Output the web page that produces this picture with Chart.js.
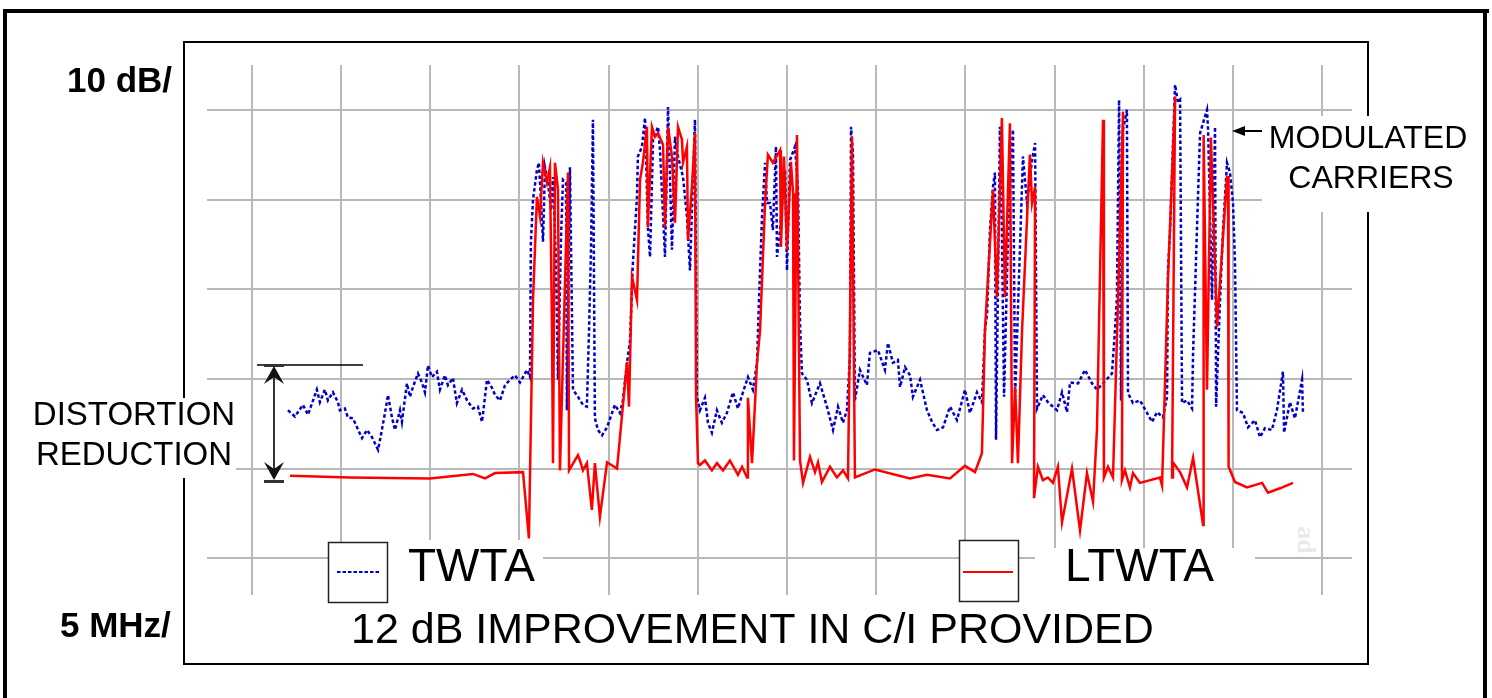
<!DOCTYPE html>
<html><head><meta charset="utf-8">
<script src="https://cdn.jsdelivr.net/npm/chart.js@4.4.0/dist/chart.umd.min.js"></script>
<style>html,body{margin:0;padding:0;background:#fff;}#wrap{width:1492px;height:698px;position:relative;}</style>
</head><body><div id="wrap"><canvas id="c"></canvas></div>
<script>
const twtaMHz = [2.02,2.41,2.86,3.14,3.64,3.81,4.09,4.26,4.54,4.82,4.93,5.21,5.38,5.66,5.89,6.17,6.45,6.73,7.07,7.18,
7.46,7.63,7.85,8.02,8.30,8.41,8.69,8.86,9.03,9.31,9.53,9.70,9.87,10.09,10.37,10.54,10.82,10.99,11.27,11.49,
11.78,12.06,12.39,12.67,12.90,13.18,13.46,13.63,13.91,14.19,14.47,14.75,15.03,15.42,15.59,
15.64,15.76,15.98,16.09,16.20,16.32,16.43,16.60,16.77,16.88,17.05,17.16,17.33,17.44,17.61,17.66,17.83,18.00,18.28,18.56,
18.78,18.90,19.01,19.12,19.23,19.40,19.63,19.91,20.19,20.35,20.63,20.80,21.03,21.20,21.36,21.59,21.64,21.87,22.04,22.20,
22.32,22.49,22.77,22.88,23.16,23.33,23.55,23.72,23.89,24.17,24.39,24.56,24.84,
24.95,25.12,25.40,25.57,25.79,26.07,26.35,26.63,26.97,27.25,27.53,27.81,28.09,28.32,28.43,28.60,28.77,28.88,29.05,29.21,
29.38,29.44,29.61,29.89,30.00,30.17,30.45,30.62,30.73,30.84,31.12,31.40,31.85,32.24,32.58,32.86,33.14,33.36,33.53,33.59,
33.70,33.81,34.09,34.48,34.65,35.10,35.49,35.66,35.94,36.22,36.34,36.62,36.90,37.06,37.46,37.85,38.13,38.41,38.75,39.14,
39.53,39.98,40.26,40.65,40.93,
41.10,41.22,41.38,41.55,41.66,41.72,41.94,42.05,42.17,42.39,42.67,42.79,43.23,43.46,43.74,43.91,44.02,44.35,44.63,45.14,
45.42,45.70,45.87,46.32,46.71,47.10,47.38,47.72,48.22,48.39,48.50,48.62,48.73,48.84,49.06,49.12,49.40,49.79,50.19,50.47,
50.75,51.08,51.31,51.36,51.48,51.76,51.92,52.04,52.15,52.43,52.71,52.77,52.99,53.16,53.55,53.61,53.83,54.00,54.06,54.28,
54.45,54.67,54.84,55.01,55.12,55.23,55.57,55.85,56.24,56.52,56.80,57.19,57.47,57.81,57.87,58.20,58.48,58.88,58.93];
const twtaDb = [16.5,15.8,17.1,16.0,18.8,17.4,18.8,17.6,18.5,17.4,16.5,16.7,15.7,15.6,14.6,13.4,14.3,13.5,12.1,13.2,
16.2,18.2,15.7,14.3,16.5,15.2,19.5,18.0,19.1,20.6,19.6,18.5,21.5,20.2,20.8,18.8,20.4,19.3,20.1,17.3,
18.8,17.6,16.7,16.9,15.2,19.9,19.0,18.2,17.6,19.3,19.9,20.4,19.6,21.0,20.2,
35.2,40.0,43.3,44.1,40.0,35.3,43.6,41.9,38.8,42.5,32.9,19.9,35.8,42.2,41.9,16.5,43.6,18.8,18.0,17.1,
16.9,25.4,34.4,48.9,15.6,14.3,13.7,14.6,16.2,17.1,16.2,17.6,21.8,24.3,32.9,40.3,44.8,45.9,49.1,36.9,
33.6,46.7,48.1,45.5,33.6,50.3,34.4,47.0,44.8,42.5,38.1,32.1,48.9,
18.0,16.5,17.9,15.1,14.0,16.5,15.1,16.2,18.5,16.7,18.5,20.2,18.8,21.8,28.8,38.1,44.1,39.6,39.6,36.6,
45.9,33.6,36.6,43.3,32.1,44.4,45.9,41.1,26.2,20.6,19.9,17.3,19.5,16.9,14.3,16.9,15.1,16.5,22.4,48.1,
45.2,17.6,21.0,19.3,22.9,23.2,21.0,24.0,21.8,22.1,19.1,21.3,20.4,18.0,19.9,16.5,15.2,14.3,14.6,16.9,
15.4,18.8,16.2,18.5,17.4,
25.4,27.3,36.6,41.4,43.0,13.2,48.1,36.6,18.0,35.8,47.8,18.0,44.8,39.6,44.4,46.3,16.7,18.2,17.4,16.5,
18.5,16.3,19.6,19.5,21.0,19.5,18.8,19.5,20.6,25.4,29.1,51.1,17.6,47.8,50.0,18.4,17.3,17.6,16.2,15.2,
16.3,15.7,18.0,32.1,36.6,52.8,50.8,51.1,17.3,17.6,16.7,22.9,36.9,47.4,50.0,47.8,28.8,48.1,16.9,28.8,
36.6,44.1,43.0,39.6,32.9,16.5,16.2,14.6,15.4,13.5,14.5,14.3,16.5,20.8,14.0,17.4,15.6,19.9,16.2];

const ltwtaMHz = [2.13,5.50,9.98,12.39,13.07,13.63,15.20,15.53,15.76,15.98,16.15,16.32,16.54,16.71,16.82,16.88,16.99,17.16,17.27,17.72,
17.78,18.28,18.39,18.56,18.78,19.06,19.23,19.51,19.91,20.47,21.03,21.14,21.31,21.59,21.76,21.92,22.15,22.20,22.43,22.60,
22.77,23.05,23.16,23.33,23.55,23.72,23.89,24.11,24.17,24.39,24.45,24.67,24.84,24.90,25.01,25.12,25.40,25.79,26.07,26.41,
26.80,27.25,27.48,27.76,27.81,28.04,28.32,28.49,28.77,28.93,29.21,29.61,29.66,29.83,30.00,30.22,30.34,30.39,30.56,30.73,
30.90,31.29,31.57,31.74,31.96,32.41,32.80,33.14,33.42,33.53,33.64,33.81,34.93,36.90,37.85,39.14,39.98,40.54,40.93,41.10,
41.55,41.77,42.05,42.22,42.50,42.62,42.79,42.95,43.18,43.62,43.74,43.91,43.85,44.07,44.35,44.63,44.91,45.19,45.42,45.98,
46.43,46.82,47.16,47.38,47.72,47.77,48.00,48.28,48.56,48.84,48.78,48.95,49.23,49.40,49.79,50.91,51.03,51.36,51.76,51.59,
51.64,52.04,52.43,52.77,53.33,53.36,53.55,53.77,54.11,54.67,54.73,54.76,55.12,55.79,56.64,56.97,57.64,58.37];
const ltwtaDb = [9.2,9.0,8.9,9.4,8.9,9.5,9.6,2.2,28.8,40.3,38.1,44.1,41.9,43.6,26.2,10.6,44.1,41.1,9.8,43.0,
9.8,11.5,10.9,9.8,10.6,5.4,10.6,4.6,10.7,10.0,21.9,16.9,31.4,28.8,42.2,44.1,48.1,36.9,48.1,47.0,
47.4,46.1,36.9,48.1,44.8,37.4,48.1,46.7,44.1,45.9,35.5,41.4,47.4,18.0,10.6,10.4,10.9,9.8,10.6,9.8,
10.9,9.3,10.2,9.0,17.9,10.6,21.8,25.4,39.6,45.0,44.1,45.5,34.7,44.8,34.4,44.2,40.7,10.9,47.2,10.9,
8.4,11.3,9.6,10.7,8.5,10.2,9.0,9.8,8.9,25.4,47.0,9.0,9.9,8.9,9.3,8.9,10.3,9.6,11.7,25.4,
41.1,29.1,49.1,29.1,48.5,10.6,19.1,10.6,25.4,45.0,39.6,41.4,6.7,10.2,8.7,9.0,8.4,10.2,4.0,10.0,
3.1,9.5,6.3,14.3,48.9,9.0,10.2,9.0,28.8,49.8,8.7,9.8,7.9,9.5,8.4,9.0,8.1,31.0,51.5,9.0,
10.7,9.6,7.9,11.2,3.7,47.2,18.8,46.9,25.8,42.5,42.5,10.2,8.5,7.9,8.4,7.3,7.8,8.4];

const seriesNames = ['TWTA', 'LTWTA'];
const xGridMHz = [0,5,10,15,20,25,30,35,40,45,50,55,60];
const yGridDb = [0,10,20,30,40,50];
const yScaleLabel = '10 dB/';
const xScaleLabel = '5 MHz/';
const captionText = '12 dB IMPROVEMENT IN C/I PROVIDED';
const noteDistortion = ['DISTORTION', 'REDUCTION'];
const noteCarriers = ['MODULATED', 'CARRIERS'];
const watermarkText = 'ad';

function pts(xs, ys) {
  const n = Math.min(xs.length, ys.length);
  const out = [];
  for (let i = 0; i < n; i++) out.push({x: xs[i], y: ys[i]});
  return out;
}

const FONT = '"Liberation Sans", Arial, Helvetica, sans-serif';

const decor = {
  id: 'decor',
  beforeDraw(chart) {
    const c = chart.ctx;
    c.save(); c.fillStyle = '#ffffff'; c.fillRect(0, 0, chart.width, chart.height); c.restore();
  },
  afterDraw(chart) {
    const c = chart.ctx;
    c.save();
    // outer thick frame (no bottom edge visible)
    c.fillStyle = '#000';
    c.fillRect(3, 9, 4, 689);
    c.fillRect(3, 9, 1486, 4);
    c.fillRect(1483, 9, 4, 689);
    // inner frame
    c.strokeStyle = '#000'; c.lineWidth = 2;
    c.strokeRect(184, 42, 1184, 622);
    // white label backgrounds
    c.fillStyle = '#fff';
    c.fillRect(12, 398, 224, 80);
    c.fillRect(388, 540, 155, 62);
    c.fillRect(1035, 548, 220, 52);
    c.fillRect(1262, 116, 216, 96);
    // legend boxes
    c.fillRect(328, 542, 59, 60);
    c.fillRect(959, 540, 59, 61);
    c.strokeStyle = '#222'; c.lineWidth = 1.5;
    c.strokeRect(328.5, 542.5, 59, 60);
    c.strokeRect(959.5, 540.5, 59, 61);
    const ds = chart.data.datasets;
    const blue = ds.find(d => d.label === seriesNames[0]);
    const red = ds.find(d => d.label === seriesNames[1]);
    c.lineWidth = 2;
    c.strokeStyle = blue.borderColor; c.setLineDash([3.5, 2]);
    c.beginPath(); c.moveTo(337, 572); c.lineTo(381, 572); c.stroke();
    c.setLineDash([]);
    c.strokeStyle = red.borderColor;
    c.beginPath(); c.moveTo(963, 572); c.lineTo(1013, 572); c.stroke();
    // texts
    c.fillStyle = '#000';
    c.textBaseline = 'alphabetic';
    c.textAlign = 'left';
    c.font = 'bold 35px ' + FONT;
    c.fillText(yScaleLabel, 67, 92);
    c.fillText(xScaleLabel, 60, 637);
    c.font = '46px ' + FONT;
    c.fillText(blue.label, 408, 581);
    c.fillText(red.label, 1065, 581);
    c.font = '43px ' + FONT;
    c.fillText(captionText, 351, 643);
    c.textAlign = 'center';
    c.font = '33px ' + FONT;
    c.fillText(noteDistortion[0], 134, 425);
    c.fillText(noteDistortion[1], 134, 465);
    c.font = '32px ' + FONT;
    c.fillText(noteCarriers[0], 1368, 148);
    c.fillText(noteCarriers[1], 1371, 188);
    // carriers arrow
    c.strokeStyle = '#000'; c.lineWidth = 2;
    c.beginPath(); c.moveTo(1262, 131); c.lineTo(1242, 131); c.stroke();
    c.beginPath(); c.moveTo(1232, 131); c.lineTo(1245, 126); c.lineTo(1245, 136); c.closePath(); c.fill();
    // distortion reduction bracket
    c.lineWidth = 1.5;
    c.beginPath(); c.moveTo(257, 365); c.lineTo(363, 365); c.stroke();
    c.fillStyle = '#333';
    c.fillRect(264, 364, 20, 3);
    c.fillRect(264, 480, 20, 3);
    c.strokeStyle = '#333'; c.lineWidth = 2;
    c.beginPath(); c.moveTo(274, 372); c.lineTo(274, 475); c.stroke();
    c.fillStyle = '#111';
    c.beginPath(); c.moveTo(274, 366); c.lineTo(284, 384); c.lineTo(274, 377); c.lineTo(264, 384); c.closePath(); c.fill();
    c.beginPath(); c.moveTo(274, 480); c.lineTo(284, 462); c.lineTo(274, 469); c.lineTo(264, 462); c.closePath(); c.fill();
    // faint watermark
    c.save();
    c.translate(1305, 540); c.rotate(Math.PI / 2);
    c.fillStyle = '#e9e9e9'; c.font = 'bold 26px "Liberation Serif", serif';
    c.textAlign = 'center'; c.textBaseline = 'middle';
    c.fillText(watermarkText, 0, 0);
    c.restore();
    c.restore();
  }
};

const gridOpts = { color: '#b8b8b8', lineWidth: 2, drawTicks: false };

new Chart(document.getElementById('c'), {
  type: 'line',
  data: {
    datasets: [
      { label: seriesNames[1], data: pts(ltwtaMHz, ltwtaDb), borderColor: '#ff0000', borderWidth: 2.5,
        pointRadius: 0, tension: 0, fill: false, order: 0 },
      { label: seriesNames[0], data: pts(twtaMHz, twtaDb), borderColor: '#0000cc', borderWidth: 2.5,
        borderDash: [3.5, 2.5], pointRadius: 0, tension: 0, fill: false, order: 1 }
    ]
  },
  options: {
    responsive: true, maintainAspectRatio: false, animation: false,
    layout: { padding: { left: 207, right: 140, top: 65, bottom: 103 } },
    plugins: { legend: { display: false }, tooltip: { enabled: false } },
    scales: {
      x: { type: 'linear', min: -2.52, max: 61.68, grid: gridOpts, border: { display: false },
           ticks: { display: false },
           afterBuildTicks: s => { s.ticks = xGridMHz.map(v => ({ value: v })); } },
      y: { type: 'linear', min: -4.1, max: 55, grid: gridOpts, border: { display: false },
           ticks: { display: false },
           afterBuildTicks: s => { s.ticks = yGridDb.map(v => ({ value: v })); } }
    }
  },
  plugins: [decor]
});
</script>
</body></html>
